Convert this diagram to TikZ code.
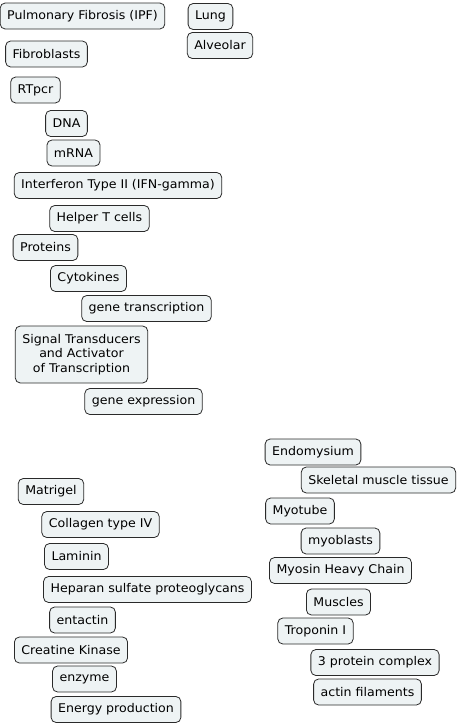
\documentclass[tikz,border=0pt]{standalone}
\usepackage{fontspec}
\setmainfont{DejaVu Sans}[FakeStretch=1.05]
\usepackage{tikz}
\definecolor{topicfill}{HTML}{EEF3F4}
\definecolor{topicline}{HTML}{2A2A2A}
\tikzset{topic/.style={draw=topicline, line width=0.8pt, rounded corners=5pt, fill=topicfill,
  font=\fontsize{12}{14.5}\selectfont, minimum height=26pt, inner xsep=7pt, inner ysep=2pt, align=center}}

\begin{document}
\begin{tikzpicture}[x=1pt,y=-1pt]
        \useasboundingbox (0,0) rectangle (456,726);
        \node[topic] (ipf) at (82.5,16){Pulmonary Fibrosis (IPF)};
        \node[topic] (lung) at (210.5,16.5){Lung};
        \node[topic] (alveolar) at (220,45.5){Alveolar};
        \node[topic] (fibro) at (46.5,54){Fibroblasts};
        \node[topic] (rtpcr) at (35.5,90){RTpcr};
        \node[topic] (dna) at (66.5,123.5){DNA};
        \node[topic] (mrna) at (73.5,153){mRNA};
        \node[topic] (ifn) at (118,185.5){Interferon Type II (IFN-gamma)};
        \node[topic] (helper) at (99.5,218.5){Helper T cells};
        \node[topic] (proteins) at (45.5,247.5){Proteins};
        \node[topic] (cyto) at (88.5,278.5){Cytokines};
        \node[topic] (transcr) at (146.5,308.5){gene transcription};
        \node[topic, minimum height=57pt] (stat) at (81.5,354.5){Signal Transducers\\and Activator\\of Transcription};
        \node[topic] (express) at (143.5,401.5){gene expression};

        \node[topic] (endo) at (313,452){Endomysium};
        \node[topic] (skeletal) at (378.5,480){Skeletal muscle tissue};
        \node[topic] (myotube) at (300,511){Myotube};
        \node[topic] (myoblasts) at (340.5,541){myoblasts};
        \node[topic] (myosin) at (340.5,570.5){Myosin Heavy Chain};
        \node[topic] (muscles) at (338.5,602){Muscles};
        \node[topic] (troponin) at (315.5,631){Troponin I};
        \node[topic] (complex) at (375,662.5){3 protein complex};
        \node[topic] (actin) at (367.5,692){actin filaments};

        \node[topic] (matrigel) at (51,491.5){Matrigel};
        \node[topic] (collagen) at (100.5,524.5){Collagen type IV};
        \node[topic] (laminin) at (76.5,556.5){Laminin};
        \node[topic] (heparan) at (147.5,589.5){Heparan sulfate proteoglycans};
        \node[topic] (entactin) at (82.5,620){entactin};
        \node[topic] (ck) at (71,650){Creatine Kinase};
        \node[topic] (enzyme) at (84.5,679){enzyme};
        \node[topic] (energy) at (116,709.5){Energy production};
    \end{tikzpicture}
\end{document}
